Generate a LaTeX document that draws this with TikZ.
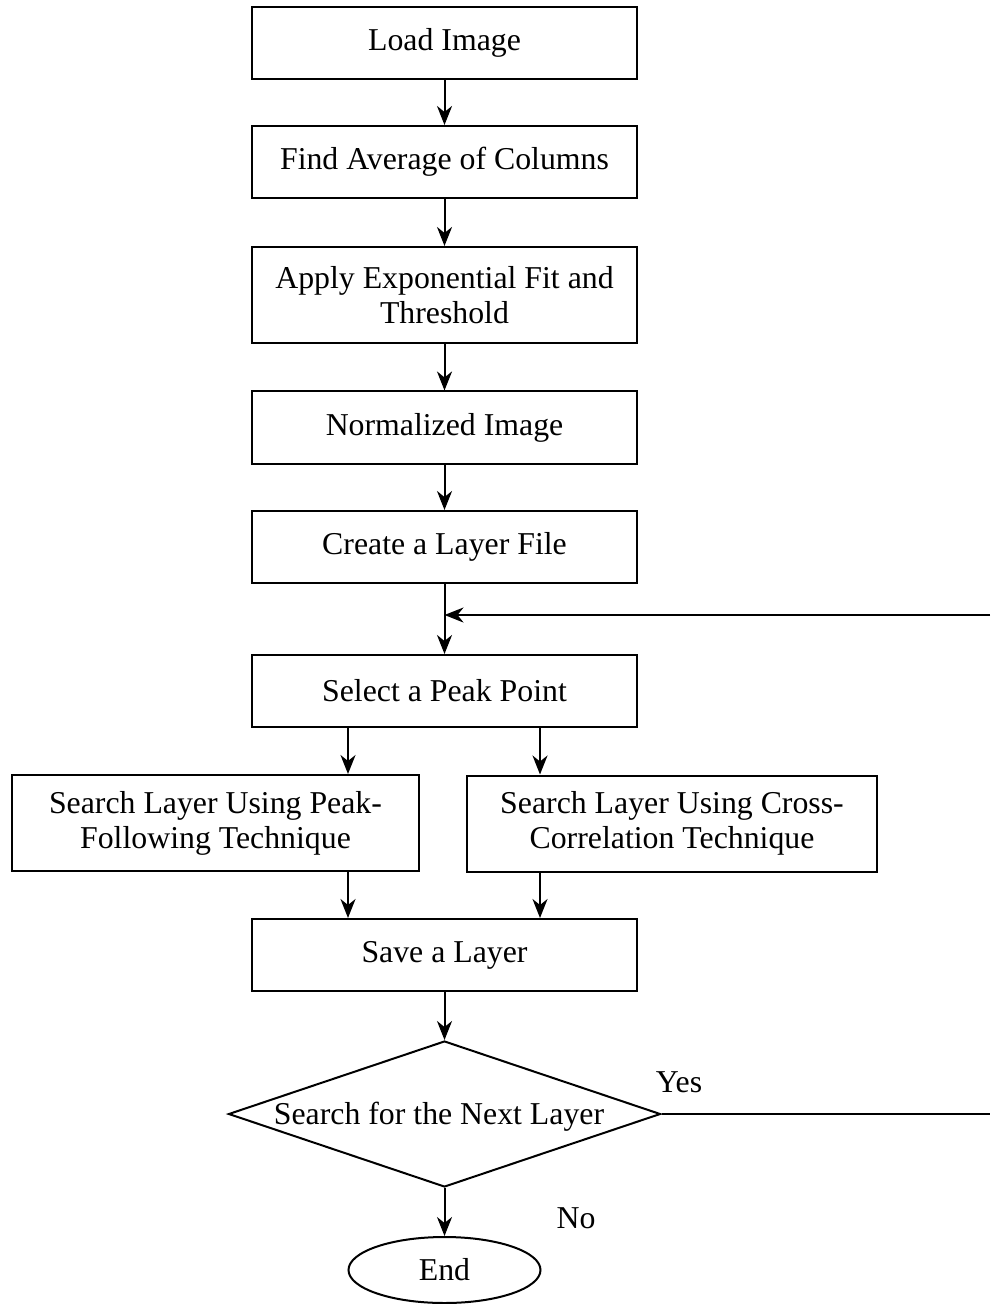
\documentclass[tikz,border=0pt]{standalone}
\usepackage{fontspec}
\setmainfont{Liberation Serif}
\usetikzlibrary{arrows.meta,shapes.geometric}
\begin{document}
\begin{tikzpicture}[x=0.5pt,y=-0.5pt,
  every node/.style={font=\fontsize{15.9}{17.5}\selectfont},
  box/.style={draw,line width=1pt,rectangle,inner sep=0pt,align=center,minimum width=192.5pt,minimum height=36pt},
  tallbox/.style={box,minimum height=48pt},
  arr/.style={line width=1pt,-{Stealth[length=9.5pt,width=7.5pt,inset=3pt]}},
  ln/.style={line width=1pt}]
\useasboundingbox (0,0) rectangle (990,1304);
\node[box] (load) at (444.5,43) {Load Image};
\node[box] (avg) at (444.5,162) {Find Average of Columns};
\node[tallbox] (fit) at (444.5,295) {Apply Exponential Fit and\\Threshold};
\node[box] (norm) at (444.5,427.5) {Normalized Image};
\node[box] (layer) at (444.5,547) {Create a Layer File};
\node[box] (peak) at (444.5,691) {Select a Peak Point};
\node[tallbox,minimum width=203.5pt] (pf) at (215.5,823) {Search Layer Using Peak-\\Following Technique};
\node[tallbox,minimum width=205pt] (cc) at (672,823.5) {Search Layer Using Cross-\\Correlation Technique};
\node[box] (save) at (444.5,955) {Save a Layer};
\node[draw,line width=1pt,diamond,inner sep=0pt,minimum width=216pt,minimum height=73pt] (dec) at (444.5,1114) {};
\node (dectext) at (439,1117) {Search for the Next Layer};
\node[draw,line width=1pt,ellipse,inner sep=0pt,minimum width=96pt,minimum height=33pt] (end) at (444.5,1270) {End};
\node (yes) at (679,1082) {Yes};
\node (no) at (576,1218) {No};
\coordinate (join) at (444.5,615);
\coordinate (back) at (990,615);
\coordinate (out) at (990,1114);
\coordinate (a1) at (348,0);
\coordinate (a2) at (540,0);
\draw[arr] (load) -- (avg);
\draw[arr] (avg) -- (fit);
\draw[arr] (fit) -- (norm);
\draw[arr] (norm) -- (layer);
\draw[arr] (layer) -- (peak);
\draw[arr] (back) -- (join);
\draw[arr] (peak.south -| a1) -- (pf.north -| a1);
\draw[arr] (peak.south -| a2) -- (cc.north -| a2);
\draw[arr] (pf.south -| a1) -- (save.north -| a1);
\draw[arr] (cc.south -| a2) -- (save.north -| a2);
\draw[arr] (save.south) -- (dec.north);
\draw[arr] (dec.south) -- (end.north);
\draw[ln] (dec.east) -- (out);
\end{tikzpicture}
\end{document}
